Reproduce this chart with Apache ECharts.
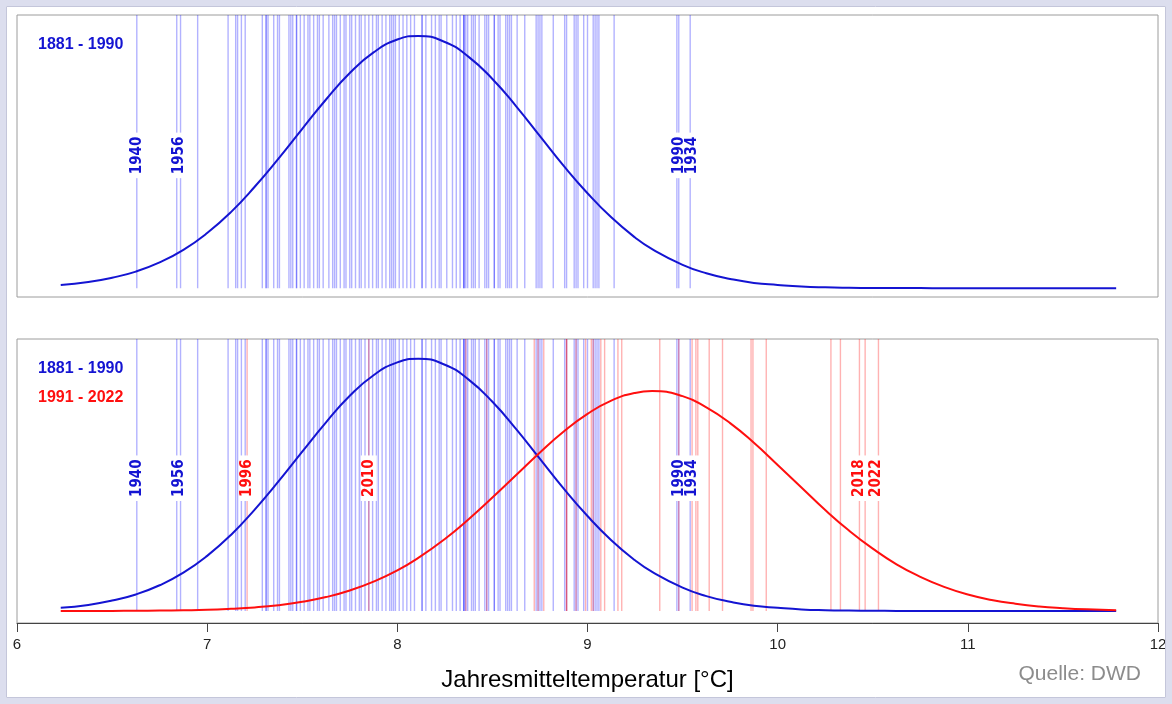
<!DOCTYPE html>
<html>
<head>
<meta charset="utf-8">
<title>Jahresmitteltemperatur Deutschland</title>
<script src="https://cdn.jsdelivr.net/npm/echarts@6/dist/echarts.min.js"></script>
<style>
    html, body { margin: 0; padding: 0; background: #fff; }
    #chart { width: 1172px; height: 704px; }
</style>
</head>
<body>
<div id="chart"></div>
<script>
// Jahresmittel je Jahr (°C)
var temps1881_1990 = [6.63, 6.84, 6.86, 6.95, 7.11, 7.15, 7.16, 7.18, 7.20, 7.29, 7.31, 7.31, 7.32, 7.35, 7.37, 7.38,
    7.43, 7.44, 7.45, 7.47, 7.47, 7.49, 7.51, 7.53, 7.54, 7.56, 7.58, 7.59,
    7.61, 7.64, 7.66, 7.67, 7.68, 7.70, 7.72, 7.73, 7.75, 7.76, 7.78, 7.80, 7.81, 7.83, 7.85, 7.87, 7.89, 7.90,
    7.92, 7.94, 7.96, 7.97, 7.98, 7.99, 8.01, 8.03, 8.05, 8.07, 8.09, 8.13, 8.13, 8.15, 8.18, 8.20, 8.22, 8.23,
    8.26, 8.29, 8.31, 8.33, 8.35, 8.35, 8.35, 8.36, 8.37, 8.39, 8.40, 8.41, 8.43, 8.46, 8.47, 8.48, 8.51, 8.51,
    8.53, 8.54, 8.57, 8.58, 8.59, 8.60, 8.63, 8.67, 8.73, 8.74, 8.75, 8.76, 8.82, 8.88, 8.89, 8.93, 8.94, 8.95,
    8.98, 9.00, 9.03, 9.04, 9.05, 9.06, 9.14, 9.47, 9.48, 9.54];
var temps1991_2022 = [7.21, 7.85, 8.36, 8.47, 8.72, 8.74, 8.77, 8.89, 8.89, 8.94, 8.99, 9.02, 9.03, 9.07, 9.09, 9.16,
    9.18, 9.38, 9.48, 9.55, 9.57, 9.58, 9.64, 9.71, 9.86, 9.87, 9.94, 10.28, 10.33, 10.43, 10.46, 10.53];

// Dichtekurven
var tempGrid = [6.23, 6.375, 6.5, 6.625, 6.75, 6.875, 7, 7.125, 7.25, 7.375, 7.5, 7.625, 7.75, 7.875, 8, 8.11,
    8.25, 8.375, 8.5, 8.625, 8.75, 8.875, 9, 9.125, 9.25, 9.34, 9.5, 9.625, 9.75, 9.875, 10, 10.125, 10.25,
    10.375, 10.5, 10.625, 10.75, 10.875, 11, 11.125, 11.25, 11.375, 11.5, 11.625, 11.78];
var densAlt = [0.008, 0.0152, 0.026, 0.0411, 0.064, 0.0952, 0.137, 0.189, 0.252, 0.322, 0.396, 0.469, 0.535, 0.586, 0.618, 0.627,
    0.612, 0.575, 0.520, 0.452, 0.378, 0.304, 0.236, 0.176, 0.126, 0.097, 0.058, 0.037, 0.023, 0.013, 0.008, 0.004, 0.002,
    0.001, 0.0005, 0.0003, 0.0001, 0, 0, 0, 0, 0, 0, 0, 0];
var densNeu = [0.0001, 0.0002, 0.0003, 0.0005, 0.001, 0.0018, 0.003, 0.0055, 0.009, 0.0146, 0.023, 0.0346, 0.051, 0.073, 0.101, 0.132,
    0.179, 0.228, 0.282, 0.338, 0.394, 0.446, 0.490, 0.523, 0.542, 0.5465, 0.534, 0.506, 0.467, 0.418, 0.363, 0.307, 0.251,
    0.200, 0.155, 0.116, 0.085, 0.060, 0.041, 0.0275, 0.018, 0.0112, 0.007, 0.0041, 0.002];

// beschriftete Jahre
var labelYearsAlt = ['1940', '1956', '1990', '1934'];
var labelTempsAlt = [6.63, 6.85, 9.48, 9.55];
var labelYearsNeu = ['1996', '2010', '2018', '2022'];
var labelTempsNeu = [7.21, 7.85, 10.43, 10.52];

var xTicks = [6, 7, 8, 9, 10, 11, 12];

var BLUE = '#1414d2';
var RED = '#ff0f0f';
var LABEL_Y = 0.33;
var narrow = "'Liberation Sans Narrow', 'DejaVu Sans Condensed', 'Arial Narrow', sans-serif";
var sans = 'Liberation Sans, Arial, sans-serif';

var chart = echarts.init(document.getElementById('chart'));

function rug(color) {
    return function (params, api) {
        var p = api.coord([api.value(0), 0]);
        return {
            type: 'line',
            shape: { x1: p[0], y1: p[1], x2: p[0], y2: params.coordSys.y },
            style: { stroke: color, lineWidth: 1.4 }
        };
    };
}

function rugSeries(temps, color, idx) {
    return {
        type: 'custom', xAxisIndex: idx, yAxisIndex: idx, silent: true,
        renderItem: rug(color),
        encode: { x: 0, y: 1 },
        data: temps.map(function (t) { return [t, 0]; })
    };
}

function curve(dens, color, idx) {
    return {
        type: 'line', xAxisIndex: idx, yAxisIndex: idx, silent: true,
        showSymbol: false, smooth: true, z: 4,
        lineStyle: { color: color, width: 2 },
        data: tempGrid.map(function (t, i) { return [t, dens[i]]; })
    };
}

function labels(temps, years, color, idx) {
    return {
        type: 'scatter', xAxisIndex: idx, yAxisIndex: idx, silent: true,
        symbolSize: 0, z: 5, itemStyle: { opacity: 1 },
        label: {
            show: true, position: 'inside', rotate: 90, formatter: '{b}', opacity: 1,
            color: color, fontWeight: 'bold', fontSize: 15, fontFamily: narrow,
            backgroundColor: '#fff', padding: [0, 4], lineHeight: 16
        },
        data: temps.map(function (t, i) { return { name: years[i], value: [t, LABEL_Y] }; })
    };
}

function xAx(idx, show) {
    return {
        type: 'value', gridIndex: idx, min: 6, max: 12, interval: 1,
        splitLine: { show: false },
        axisLine: { show: show, onZero: false, lineStyle: { color: '#444', width: 1 } },
        axisTick: { show: show, length: 9, lineStyle: { color: '#444' } },
        axisLabel: {
            show: show, margin: 14, color: '#222', fontSize: 15, fontFamily: sans,
            formatter: function (v) { return xTicks.indexOf(v) >= 0 ? String(v) : ''; }
        },
        name: show ? 'Jahresmitteltemperatur [°C]' : '',
        nameLocation: 'middle', nameGap: 45,
        nameTextStyle: { color: '#000', fontSize: 24, fontFamily: sans }
    };
}

function yAx(idx, min, max) {
    return { type: 'value', gridIndex: idx, min: min, max: max, show: false, splitLine: { show: false } };
}

chart.setOption({
    animation: false,
    backgroundColor: '#fff',
    grid: [
        { left: 17, top: 15, width: 1141, height: 282, show: true, borderColor: '#9c9c9c', borderWidth: 1, backgroundColor: '#fff' },
        { left: 17, top: 339, width: 1141, height: 284, show: true, borderColor: '#9c9c9c', borderWidth: 1, backgroundColor: '#fff' }
    ],
    xAxis: [xAx(0, false), xAx(1, true)],
    yAxis: [yAx(0, -0.022, 0.679), yAx(1, -0.0298, 0.676)],
    series: [
        rugSeries(temps1881_1990, 'rgba(0,0,255,0.3)', 0),
        curve(densAlt, BLUE, 0),
        labels(labelTempsAlt, labelYearsAlt, BLUE, 0),
        rugSeries(temps1881_1990, 'rgba(0,0,255,0.3)', 1),
        rugSeries(temps1991_2022, 'rgba(255,0,0,0.3)', 1),
        curve(densAlt, BLUE, 1),
        curve(densNeu, RED, 1),
        labels(labelTempsAlt, labelYearsAlt, BLUE, 1),
        labels(labelTempsNeu, labelYearsNeu, RED, 1)
    ],
    graphic: [
        { type: 'text', left: 38, top: 37, style: { text: '1881 - 1990', fill: BLUE, font: 'bold 16px ' + sans } },
        { type: 'text', left: 38, top: 361, style: { text: '1881 - 1990', fill: BLUE, font: 'bold 16px ' + sans } },
        { type: 'text', left: 38, top: 390, style: { text: '1991 - 2022', fill: RED, font: 'bold 16px ' + sans } },
        { type: 'text', right: 31, top: 664, style: { text: 'Quelle: DWD', fill: '#8c8c8c', font: '21px ' + sans } },
        { type: 'rect', silent: true, z: 100, shape: { x: 0, y: 0, width: 1172, height: 704 },
          style: { fill: 'none', stroke: '#dcdeee', lineWidth: 12 } },
        { type: 'rect', silent: true, z: 101, shape: { x: 6.5, y: 6.5, width: 1159, height: 691 },
          style: { fill: 'none', stroke: '#c4c6da', lineWidth: 1 } }
    ]
});
</script>
</body>
</html>
